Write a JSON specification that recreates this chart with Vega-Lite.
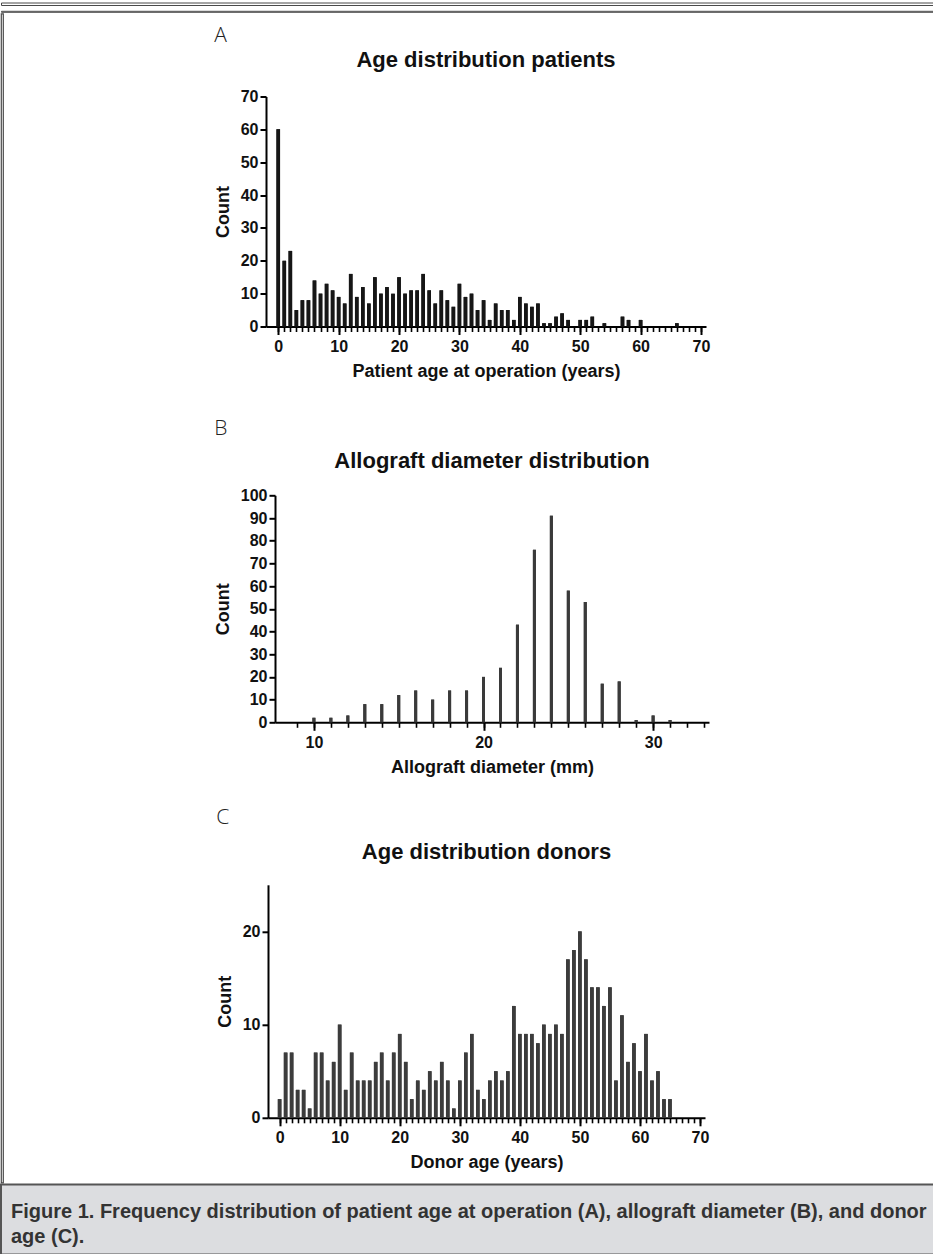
{
  "$schema": "https://vega.github.io/schema/vega-lite/v6.json",
  "padding": {"top": 1.5, "left": 0, "right": 0, "bottom": 0},
  "background": "white",
  "spacing": 0,
  "vconcat": [
    {
      "spacing": 4.3,
      "vconcat": [
        {"width": 933, "height": 2.5, "view": {"stroke": "#4a4a4a", "strokeWidth": 1, "fill": null},
         "data": {"values": [{}]}, "mark": {"type": "rect", "opacity": 0}, "encoding": {}},
        {"width": 933, "height": 1, "view": {"stroke": "#4a4a4a", "strokeWidth": 1, "fill": null},
         "data": {"values": [{}]}, "mark": {"type": "rect", "opacity": 0}, "encoding": {}}
      ]
    },
    {
      "spacing": 207,
      "hconcat": [
        {"width": 2, "height": 1169, "view": {"stroke": "#4a4a4a", "strokeWidth": 1.2, "fill": null},
         "data": {"values": [{}]}, "mark": {"type": "rect", "opacity": 0}, "encoding": {}},
        {
          "spacing": 230,
          "hconcat": [
            {
              "spacing": 0,
              "vconcat": [
                {"width": 1, "height": 10.5, "data": {"values": [{}]}, "mark": {"type": "rect", "opacity": 0}, "encoding": {}},
                {
                  "spacing": 37.8,
                  "vconcat": [
                    {
                      "spacing": 0,
                      "hconcat": [
                        {"width": 2.5, "height": 1, "data": {"values": [{}]}, "mark": {"type": "rect", "opacity": 0}, "encoding": {}},
                        {
                          "title": {"text": "A", "anchor": "start", "offset": 3, "font": "Open Sans, DejaVu Sans, sans-serif", "fontSize": 21, "fontWeight": 300, "color": "#222"},
                          "vconcat": [
                            {
                              "width": 440, "height": 230,
                              "title": {"text": "Age distribution patients", "frame": "group", "anchor": "middle", "offset": 17},
                              "data": {"values": [
                                {"age": 0, "count": 60}, {"age": 1, "count": 20}, {"age": 2, "count": 23}, {"age": 3, "count": 5},
                                {"age": 4, "count": 8}, {"age": 5, "count": 8}, {"age": 6, "count": 14}, {"age": 7, "count": 10},
                                {"age": 8, "count": 13}, {"age": 9, "count": 11}, {"age": 10, "count": 9}, {"age": 11, "count": 7},
                                {"age": 12, "count": 16}, {"age": 13, "count": 9}, {"age": 14, "count": 12}, {"age": 15, "count": 7},
                                {"age": 16, "count": 15}, {"age": 17, "count": 10}, {"age": 18, "count": 12}, {"age": 19, "count": 10},
                                {"age": 20, "count": 15}, {"age": 21, "count": 10}, {"age": 22, "count": 11}, {"age": 23, "count": 11},
                                {"age": 24, "count": 16}, {"age": 25, "count": 11}, {"age": 26, "count": 7}, {"age": 27, "count": 11},
                                {"age": 28, "count": 8}, {"age": 29, "count": 6}, {"age": 30, "count": 13}, {"age": 31, "count": 9},
                                {"age": 32, "count": 10}, {"age": 33, "count": 5}, {"age": 34, "count": 8}, {"age": 35, "count": 2},
                                {"age": 36, "count": 7}, {"age": 37, "count": 5}, {"age": 38, "count": 5}, {"age": 39, "count": 2},
                                {"age": 40, "count": 9}, {"age": 41, "count": 7}, {"age": 42, "count": 6}, {"age": 43, "count": 7},
                                {"age": 44, "count": 1}, {"age": 45, "count": 1}, {"age": 46, "count": 3}, {"age": 47, "count": 4},
                                {"age": 48, "count": 2}, {"age": 50, "count": 2}, {"age": 51, "count": 2}, {"age": 52, "count": 3},
                                {"age": 54, "count": 1}, {"age": 57, "count": 3}, {"age": 58, "count": 2}, {"age": 60, "count": 2},
                                {"age": 66, "count": 1}
                              ]},
                              "encoding": {
                                "y": {"field": "count", "type": "quantitative", "scale": {"domain": [0, 70], "nice": false},
                                      "axis": {"values": [0, 10, 20, 30, 40, 50, 60, 70], "title": "Count", "tickSize": 6, "labelPadding": 2, "titlePadding": 8}}
                              },
                              "layer": [
                                {"mark": {"type": "bar", "orient": "vertical", "width": 3.6, "color": "#161616"},
                                 "encoding": {"x": {"field": "age", "type": "quantitative", "scale": {"domain": [-1.2, 70], "nice": false, "zero": false},
                                   "axis": {"orient": "bottom", "values": [0, 10, 20, 30, 40, 50, 60, 70], "tickSize": 8, "labelPadding": 4, "labelFlush": false, "title": "Patient age at operation (years)", "titlePadding": 8}}}},
                                {"mark": {"type": "bar", "orient": "vertical", "width": 3.6, "color": "#161616"},
                                 "encoding": {"x": {"field": "age", "type": "quantitative", "scale": {"domain": [-1.2, 70], "nice": false, "zero": false},
                                   "axis": {"orient": "bottom", "values": [0,1,2,3,4,5,6,7,8,9,10,11,12,13,14,15,16,17,18,19,20,21,22,23,24,25,26,27,28,29,30,31,32,33,34,35,36,37,38,39,40,41,42,43,44,45,46,47,48,49,50,51,52,53,54,55,56,57,58,59,60,61,62,63,64,65,66,67,68,69,70], "tickSize": 5, "tickWidth": 1.6, "labels": false, "domain": false, "title": null}}}}
                              ],
                              "resolve": {"axis": {"x": "independent"}}
                            }
                          ]
                        }
                      ]
                    },
                    {
                      "spacing": 30.5,
                      "vconcat": [
                        {
                          "spacing": 0,
                          "hconcat": [
                            {"width": 2.5, "height": 1, "data": {"values": [{}]}, "mark": {"type": "rect", "opacity": 0}, "encoding": {}},
                            {
                              "title": {"text": "B", "anchor": "start", "offset": 11, "font": "Open Sans, DejaVu Sans, sans-serif", "fontSize": 21, "fontWeight": 300, "color": "#222"},
                              "vconcat": [
                                {
                                  "width": 434, "height": 227,
                                  "title": {"text": "Allograft diameter distribution", "frame": "group", "anchor": "middle", "offset": 14},
                                  "data": {"values": [
                                    {"diameter": 10, "count": 2}, {"diameter": 11, "count": 2}, {"diameter": 12, "count": 3}, {"diameter": 13, "count": 8},
                                    {"diameter": 14, "count": 8}, {"diameter": 15, "count": 12}, {"diameter": 16, "count": 14}, {"diameter": 17, "count": 10},
                                    {"diameter": 18, "count": 14}, {"diameter": 19, "count": 14}, {"diameter": 20, "count": 20}, {"diameter": 21, "count": 24},
                                    {"diameter": 22, "count": 43}, {"diameter": 23, "count": 76}, {"diameter": 24, "count": 91}, {"diameter": 25, "count": 58},
                                    {"diameter": 26, "count": 53}, {"diameter": 27, "count": 17}, {"diameter": 28, "count": 18}, {"diameter": 29, "count": 1},
                                    {"diameter": 30, "count": 3}, {"diameter": 31, "count": 1}
                                  ]},
                                  "encoding": {
                                    "y": {"field": "count", "type": "quantitative", "scale": {"domain": [0, 100], "nice": false},
                                          "axis": {"values": [0, 10, 20, 30, 40, 50, 60, 70, 80, 90, 100], "title": "Count", "tickSize": 6, "labelPadding": 2, "titlePadding": 8}}
                                  },
                                  "layer": [
                                    {"mark": {"type": "bar", "orient": "vertical", "width": 3, "color": "#3a3a3a"},
                                     "encoding": {"x": {"field": "diameter", "type": "quantitative", "scale": {"domain": [8, 33], "nice": false, "zero": false},
                                       "axis": {"orient": "bottom", "values": [10, 20, 30], "tickSize": 8, "labelPadding": 4, "labelFlush": false, "title": "Allograft diameter (mm)", "titlePadding": 8}}}},
                                    {"mark": {"type": "bar", "orient": "vertical", "width": 3, "color": "#3a3a3a"},
                                     "encoding": {"x": {"field": "diameter", "type": "quantitative", "scale": {"domain": [8, 33], "nice": false, "zero": false},
                                       "axis": {"orient": "bottom", "values": [9,10,11,12,13,14,15,16,17,18,19,20,21,22,23,24,25,26,27,28,29,30,31,32,33], "tickSize": 5, "tickWidth": 1.6, "labels": false, "domain": false, "title": null}}}}
                                  ],
                                  "resolve": {"axis": {"x": "independent"}}
                                }
                              ]
                            }
                          ]
                        },
                        {
                          "spacing": 0,
                          "hconcat": [
                            {"width": 4.5, "height": 1, "data": {"values": [{}]}, "mark": {"type": "rect", "opacity": 0}, "encoding": {}},
                            {
                              "title": {"text": "C", "anchor": "start", "offset": 13, "font": "Open Sans, DejaVu Sans, sans-serif", "fontSize": 21, "fontWeight": 300, "color": "#222"},
                              "vconcat": [
                                {
                                  "width": 437, "height": 233,
                                  "title": {"text": "Age distribution donors", "frame": "group", "anchor": "middle", "offset": 21},
                                  "data": {"values": [
                                    {"age": 0, "count": 2}, {"age": 1, "count": 7}, {"age": 2, "count": 7}, {"age": 3, "count": 3},
                                    {"age": 4, "count": 3}, {"age": 5, "count": 1}, {"age": 6, "count": 7}, {"age": 7, "count": 7},
                                    {"age": 8, "count": 4}, {"age": 9, "count": 6}, {"age": 10, "count": 10}, {"age": 11, "count": 3},
                                    {"age": 12, "count": 7}, {"age": 13, "count": 4}, {"age": 14, "count": 4}, {"age": 15, "count": 4},
                                    {"age": 16, "count": 6}, {"age": 17, "count": 7}, {"age": 18, "count": 4}, {"age": 19, "count": 7},
                                    {"age": 20, "count": 9}, {"age": 21, "count": 6}, {"age": 22, "count": 2}, {"age": 23, "count": 4},
                                    {"age": 24, "count": 3}, {"age": 25, "count": 5}, {"age": 26, "count": 4}, {"age": 27, "count": 6},
                                    {"age": 28, "count": 4}, {"age": 29, "count": 1}, {"age": 30, "count": 4}, {"age": 31, "count": 7},
                                    {"age": 32, "count": 9}, {"age": 33, "count": 3}, {"age": 34, "count": 2}, {"age": 35, "count": 4},
                                    {"age": 36, "count": 5}, {"age": 37, "count": 4}, {"age": 38, "count": 5}, {"age": 39, "count": 12},
                                    {"age": 40, "count": 9}, {"age": 41, "count": 9}, {"age": 42, "count": 9}, {"age": 43, "count": 8},
                                    {"age": 44, "count": 10}, {"age": 45, "count": 9}, {"age": 46, "count": 10}, {"age": 47, "count": 9},
                                    {"age": 48, "count": 17}, {"age": 49, "count": 18}, {"age": 50, "count": 20}, {"age": 51, "count": 17},
                                    {"age": 52, "count": 14}, {"age": 53, "count": 14}, {"age": 54, "count": 12}, {"age": 55, "count": 14},
                                    {"age": 56, "count": 4}, {"age": 57, "count": 11}, {"age": 58, "count": 6}, {"age": 59, "count": 8},
                                    {"age": 60, "count": 5}, {"age": 61, "count": 9}, {"age": 62, "count": 4}, {"age": 63, "count": 5},
                                    {"age": 64, "count": 2}, {"age": 65, "count": 2}
                                  ]},
                                  "encoding": {
                                    "y": {"field": "count", "type": "quantitative", "scale": {"domain": [0, 25], "nice": false},
                                          "axis": {"values": [0, 10, 20], "title": "Count", "tickSize": 6, "labelPadding": 2, "titlePadding": 8}}
                                  },
                                  "layer": [
                                    {"mark": {"type": "bar", "orient": "vertical", "width": 3.6, "color": "#3c3c3c"},
                                     "encoding": {"x": {"field": "age", "type": "quantitative", "scale": {"domain": [-1.1, 70], "nice": false, "zero": false},
                                       "axis": {"orient": "bottom", "values": [0, 10, 20, 30, 40, 50, 60, 70], "tickSize": 8, "labelPadding": 4, "labelFlush": false, "title": "Donor age (years)", "titlePadding": 8}}}},
                                    {"mark": {"type": "bar", "orient": "vertical", "width": 3.6, "color": "#3c3c3c"},
                                     "encoding": {"x": {"field": "age", "type": "quantitative", "scale": {"domain": [-1.1, 70], "nice": false, "zero": false},
                                       "axis": {"orient": "bottom", "values": [0,1,2,3,4,5,6,7,8,9,10,11,12,13,14,15,16,17,18,19,20,21,22,23,24,25,26,27,28,29,30,31,32,33,34,35,36,37,38,39,40,41,42,43,44,45,46,47,48,49,50,51,52,53,54,55,56,57,58,59,60,61,62,63,64,65,66,67,68,69,70], "tickSize": 5, "tickWidth": 1.6, "labels": false, "domain": false, "title": null}}}}
                                  ],
                                  "resolve": {"axis": {"x": "independent"}}
                                }
                              ]
                            }
                          ]
                        }
                      ]
                    }
                  ]
                }
              ]
            },
            {"width": 1, "height": 1169, "view": {"stroke": "#4a4a4a", "strokeWidth": 1.2, "fill": null},
             "data": {"values": [{}]}, "mark": {"type": "rect", "opacity": 0}, "encoding": {}}
          ]
        }
      ]
    },
    {
      "width": 933, "height": 70,
      "view": {"fill": "#dcdde0", "stroke": "#555555", "strokeWidth": 2},
      "data": {"values": [{}]}, "mark": {"type": "rect", "opacity": 0}, "encoding": {},
      "title": {
        "text": ["Figure 1. Frequency distribution of patient age at operation (A), allograft diameter (B), and donor", "age (C)."],
        "anchor": "start", "frame": "group", "orient": "top", "baseline": "top", "offset": -62, "dx": 10,
        "font": "Liberation Sans, Arial, sans-serif", "fontSize": 20, "fontWeight": "bold",
        "color": "#333333", "lineHeight": 25
      }
    }
  ],
  "config": {
    "view": {"stroke": null},
    "axis": {
      "grid": false,
      "domainColor": "#000000", "domainWidth": 2,
      "tickColor": "#000000", "tickWidth": 2,
      "labelFont": "Liberation Sans, Arial, sans-serif", "labelFontSize": 16, "labelFontWeight": "bold", "labelColor": "#111111",
      "titleFont": "Liberation Sans, Arial, sans-serif", "titleFontSize": 18, "titleFontWeight": "bold", "titleColor": "#111111"
    },
    "title": {"font": "Liberation Sans, Arial, sans-serif", "fontSize": 22, "fontWeight": "bold", "color": "#111111"}
  }
}
